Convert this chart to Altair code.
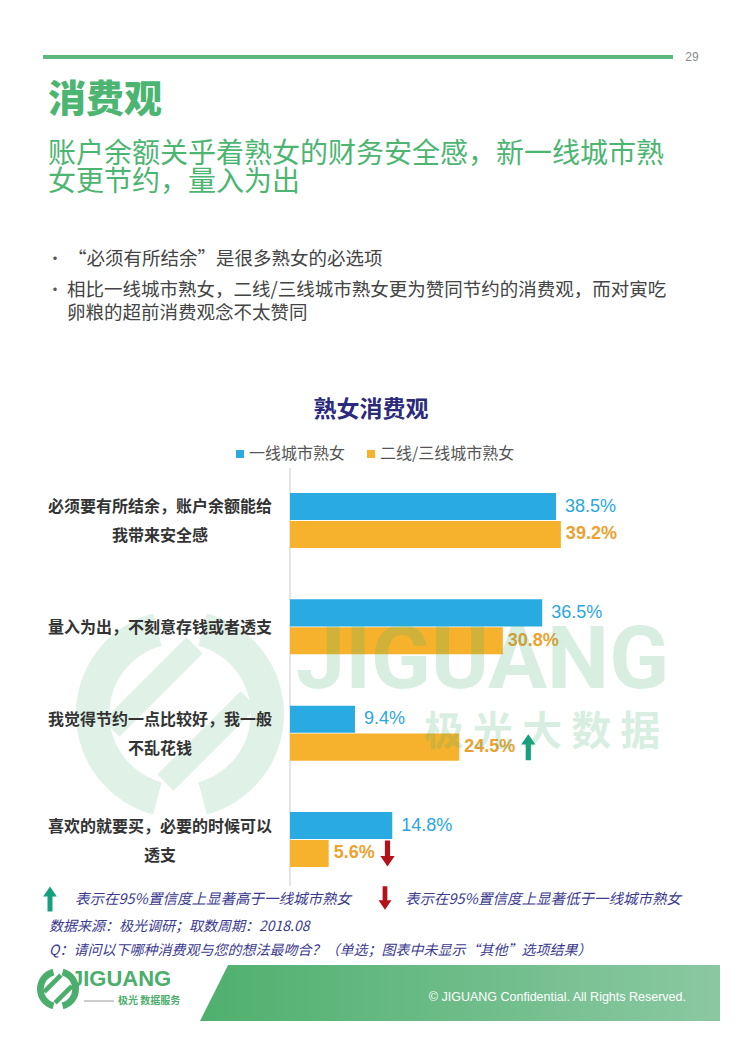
import math
import altair as alt
import pandas as pd

# ---------------- data ----------------
categories = [
    "必须要有所结余，账户余额能给\n我带来安全感",
    "量入为出，不刻意存钱或者透支",
    "我觉得节约一点比较好，我一般\n不乱花钱",
    "喜欢的就要买，必要的时候可以\n透支",
]
series = ["一线城市熟女", "二线/三线城市熟女"]
tier1_values = [38.5, 36.5, 9.4, 14.8]
tier23_values = [39.2, 30.8, 24.5, 5.6]
tier23_signif = ["", "", "up", "down"]  # vs tier-1 at 95% confidence

rows = []
for i, c in enumerate(categories):
    rows.append({"category": c, "series": series[0], "value": tier1_values[i], "sig": ""})
    rows.append({"category": c, "series": series[1], "value": tier23_values[i], "sig": tier23_signif[i]})
df = pd.DataFrame(rows)
one = pd.DataFrame({"k": [0]})

CJK = "Noto Sans CJK SC"
LAT = "Liberation Sans"
BLUE = "#29abe2"
ORANGE = "#f6b22d"
GREEN = "#4db572"
WM = "#e0f1e7"


def P(v):
    # page pixel -> plot pixel (8px body margin)
    return v - 8


UP = "M0,-1 L0.55,-0.2 L0.2,-0.2 L0.2,1 L-0.2,1 L-0.2,-0.2 L-0.55,-0.2 Z"
DOWN = "M0,1 L0.55,0.2 L0.2,0.2 L0.2,-1 L-0.2,-1 L-0.2,0.2 L-0.55,0.2 Z"


def txt(s, x, y, size, color, font=CJK, weight="normal", align="left", style="normal", opacity=1, lh=None):
    kw = dict(text=s, fontSize=size, color=color, font=font, fontWeight=weight,
              align=align, baseline="middle", fontStyle=style, opacity=opacity)
    if lh:
        kw["lineHeight"] = lh
        kw["lineBreak"] = "\n"
    return alt.Chart(one).mark_text(**kw).encode(x=alt.value(P(x)), y=alt.value(P(y)))


def logo(cx, cy, R, color):
    layers = []
    for t1, t2 in [(195, 345), (15, 165)]:
        layers.append(
            alt.Chart(one).mark_arc(radius=R, radius2=R * 0.68, theta=math.radians(t1),
                                    theta2=math.radians(t2), color=color)
            .encode(x=alt.value(P(cx)), y=alt.value(P(cy)))
        )
    w = R * 0.22
    for (x1, y1, x2, y2) in [(-0.66, 0.14, 0.14, -0.66), (-0.14, 0.66, 0.66, -0.14)]:
        layers.append(
            alt.Chart(one).mark_rule(strokeWidth=w, color=color, strokeCap="butt")
            .encode(x=alt.value(P(cx + x1 * R)), y=alt.value(P(cy + y1 * R)),
                    x2=alt.value(P(cx + x2 * R)), y2=alt.value(P(cy + y2 * R)))
        )
    return layers


# ---------------- scales ----------------
PX_PER_PCT = 6.91
xscale = alt.Scale(domain=[0, 40], range=[P(290), P(290) + 40 * PX_PER_PCT], nice=False, zero=True)
yscale = alt.Scale(domain=categories, range=[P(467.3), P(892.7)], paddingInner=0.483, paddingOuter=0.2415)
yoff = alt.YOffset("series:N", scale=alt.Scale(domain=series, paddingInner=0.03, paddingOuter=0))

base = alt.Chart(df).transform_calculate(label="format(datum.value, '.1f') + '%'")

bars = base.mark_bar().encode(
    x=alt.X("value:Q", scale=xscale, axis=None),
    y=alt.Y("category:N", scale=yscale, axis=None),
    yOffset=yoff,
    color=alt.Color(
        "series:N",
        scale=alt.Scale(domain=series, range=[BLUE, ORANGE]),
        legend=alt.Legend(
            orient="none", legendX=P(232), legendY=P(446), direction="horizontal", title=None,
            symbolType="square", symbolSize=64, symbolStrokeWidth=0, labelFont=CJK,
            labelFontSize=16, labelColor="#555555", labelOffset=1, columnPadding=17,
        ),
    ),
)

lab1 = base.transform_filter(alt.datum.series == series[0]).mark_text(
    align="left", baseline="middle", dx=9, fontSize=18, font=LAT, color="#2aa6de"
).encode(x=alt.X("value:Q", scale=xscale), y=alt.Y("category:N", scale=yscale), yOffset=yoff, text="label:N")

lab2 = base.transform_filter(alt.datum.series == series[1]).mark_text(
    align="left", baseline="middle", dx=5, fontSize=18, font=LAT, fontWeight="bold", color="#eca131"
).encode(x=alt.X("value:Q", scale=xscale), y=alt.Y("category:N", scale=yscale), yOffset=yoff, text="label:N")

arrows = base.transform_filter(alt.datum.sig != "").transform_calculate(
    ax=f"datum.value + (length(datum.label) * 10.2 + 18) / {PX_PER_PCT}"
).mark_point(filled=True, size=676, opacity=1, strokeWidth=0).encode(
    x=alt.X("ax:Q", scale=xscale),
    y=alt.Y("category:N", scale=yscale),
    yOffset=yoff,
    shape=alt.Shape("sig:N", scale=alt.Scale(domain=["up", "down"], range=[UP, DOWN]), legend=None),
    fill=alt.Fill("sig:N", scale=alt.Scale(domain=["up", "down"], range=["#17a07e", "#b3121b"]), legend=None),
)

cat_base = alt.Chart(pd.DataFrame({"category": categories})).transform_calculate(
    nl="length(split(datum.category, '\\n'))"
)
cat_kw = dict(align="center", baseline="middle", fontSize=16, font=CJK, fontWeight="bold",
              color="#333333", lineBreak="\n", lineHeight=29)
cat_enc = dict(x=alt.value(P(160)), y=alt.Y("category:N", scale=yscale), text="category:N")
cat_one = cat_base.transform_filter("datum.nl == 1").mark_text(dy=1, **cat_kw).encode(**cat_enc)
cat_two = cat_base.transform_filter("datum.nl == 2").mark_text(dy=-13, **cat_kw).encode(**cat_enc)

axis_line = alt.Chart(one).mark_rule(color="#dcdcdc", strokeWidth=1.5).encode(
    x=alt.value(P(290)), y=alt.value(P(468)), y2=alt.value(P(886)))

# ---------------- decorations ----------------
top_rule = alt.Chart(one).mark_rule(color="#5cb97d", strokeWidth=4).encode(
    x=alt.value(P(43)), x2=alt.value(P(673)), y=alt.value(P(57)))

footer_band = alt.Chart(one).mark_point(
    shape="M-0.892,-0.1077 L1,-0.1077 L1,0.1077 L-1,0.1077 Z", size=520 ** 2, filled=True,
    opacity=1, strokeWidth=0,
    fill=alt.LinearGradient(gradient="linear", x1=0, x2=1, y1=0, y2=0,
                            stops=[alt.GradientStop(color="#4fb06e", offset=0),
                                   alt.GradientStop(color="#8bc8a2", offset=1)]),
).encode(x=alt.value(P(460)), y=alt.value(P(993)))

legend_up = alt.Chart(one).mark_point(shape=UP, size=620, filled=True, opacity=1, strokeWidth=0,
                                      fill="#17a07e").encode(x=alt.value(P(50)), y=alt.value(P(899)))
legend_down = alt.Chart(one).mark_point(shape=DOWN, size=560, filled=True, opacity=1, strokeWidth=0,
                                        fill="#b3121b").encode(x=alt.value(P(385)), y=alt.value(P(898)))

NAVY = "#3b3a8f"
layers = []
layers += logo(180, 714, 104, WM)
layers += [
    top_rule,
    txt("29", 692, 57, 12, "#8a8a8a", font=LAT, align="center"),
    txt("消费观", 48, 101, 38, GREEN, weight=900),
    txt("账户余额关乎着熟女的财务安全感，新一线城市熟\n女更节约，量入为出", 48, 155, 28, GREEN, lh=28),
    txt("•", 47, 259, 16, "#555555"),
    txt("“必须有所结余”是很多熟女的必选项", 68, 259, 18.5, "#444444"),
    txt("•", 47, 290, 16, "#555555"),
    txt("相比一线城市熟女，二线/三线城市熟女更为赞同节约的消费观，而对寅吃\n卵粮的超前消费观念不太赞同", 67, 290, 18.5, "#444444", lh=23),
    txt("熟女消费观", 371, 410, 23, "#2c2a7c", weight="bold", align="center"),
    axis_line,
    bars,
    cat_one,
    cat_two,
    lab1,
    lab2,
    arrows,
    txt("JIGUANG", 296, 662, 88, "#3fae6a", font="Roboto", weight="bold", opacity=0.2),
    txt("极 光 大 数 据", 424, 733, 40, "#3fae6a", weight="bold", opacity=0.2),
    legend_up,
    txt("表示在95%置信度上显著高于一线城市熟女", 75, 900, 14.5, NAVY, style="italic"),
    legend_down,
    txt("表示在95%置信度上显著低于一线城市熟女", 405, 900, 14.5, NAVY, style="italic"),
    txt("数据来源：极光调研；取数周期：2018.08", 49, 927, 14, NAVY, style="italic"),
    txt("Q：请问以下哪种消费观与您的想法最吻合？（单选；图表中未显示“其他”选项结果）", 49, 951, 14, NAVY, style="italic"),
    footer_band,
    txt("© JIGUANG Confidential. All Rights Reserved.", 686, 997, 12.5, "#ffffff", font=LAT, align="right"),
]
layers += logo(58, 989, 21, "#4cae6c")
layers += [
    txt("JIGUANG", 71, 979, 22, "#4cae6c", font=LAT, weight="bold"),
    alt.Chart(one).mark_rule(color="#9a9a9a", strokeWidth=1).encode(
        x=alt.value(P(84)), x2=alt.value(P(114)), y=alt.value(P(1001))),
    txt("极光 数据服务", 118, 1001, 10, "#4cae6c", weight="bold"),
]

chart = alt.layer(*layers).properties(
    width=728, height=1037,
    autosize=alt.AutoSizeParams(type="none"),
    padding=0,
).configure(background="white", view=alt.ViewConfig(stroke=None))

chart.save("out.html", embed_options={"renderer": "svg", "actions": False})
